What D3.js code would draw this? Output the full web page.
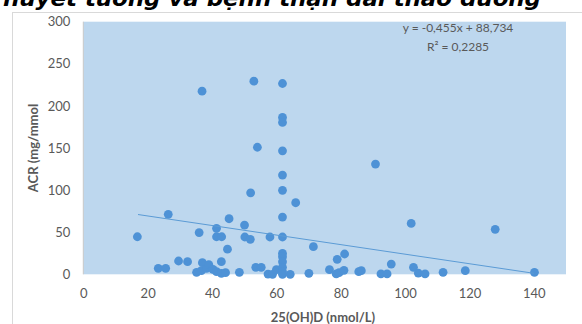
<!DOCTYPE html>
<html>
<head>
<meta charset="utf-8">
<script src="https://cdn.jsdelivr.net/npm/d3@7"></script>
<style>
  body { margin: 0; background: #fff; }
  svg { display: block; }
  text { font-family: Lato, "Open Sans", sans-serif; }
</style>
</head>
<body>
<svg id="chart" width="582" height="324"></svg>
<script>
// values
var vitD = [16.8, 23.3, 25.6, 26.4, 29.6, 32.4, 35.2, 36.0, 36.7, 37.0, 36.9, 38.3, 39.0, 40.3, 41.4, 41.4, 41.4, 43.0, 42.9, 42.9,
  44.2, 44.8, 45.3, 48.5, 50.1, 50.2, 51.9, 52.0, 53.0, 53.6, 54.1, 55.3, 57.4, 58.0, 58.8, 60.0, 61.9, 61.9, 61.9, 61.9,
  61.9, 61.9, 61.9, 61.9, 61.9, 61.9, 61.9, 61.9, 61.9, 61.9, 64.3, 66.0, 70.1, 71.5, 76.5, 78.6, 78.9, 79.5, 81.0, 81.2,
  85.6, 86.4, 90.8, 92.5, 94.4, 95.7, 101.9, 102.6, 104.1, 106.2, 111.8, 118.7, 128.0, 140.2];
var acr = [44.6, 7.1, 7.1, 71.2, 15.8, 15, 2.4, 49.6, 4.3, 13.8, 217.5, 7.1, 11.5, 5.9, 3.1, 54.6, 44.6, 44.6, 15, 1.2,
  1.9, 29.8, 66, 2.3, 58.5, 44.3, 41.5, 96.8, 229.4, 8.3, 150.9, 8.3, 0.3, 44.3, 0, 5.5, 226.6, 186.3, 180.4, 146.7,
  117.8, 99.7, 68, 44.3, 24.9, 20.9, 15, 8.3, 3.1, 0, 0, 85, 1.2, 32.8, 5.5, 0.4, 17.8, 1.9, 4.7, 24.1,
  3.1, 4.3, 130.9, 0.4, 0.4, 12.2, 60.4, 8.3, 1.5, 0.4, 2.4, 4.3, 53.4, 2.4];
var trendX = [17, 140];
var trendY = [71, 1.2];
var xTicks = [0, 20, 40, 60, 80, 100, 120, 140];
var yTicks = [0, 50, 100, 150, 200, 250, 300];
var titleText = "huyết tương và bệnh thận đái tháo đường";
var eqLines = ["y = -0,455x + 88,734", "R² = 0,2285"];

var svg = d3.select("#chart");
var plotL = 83.3, plotR = 566, plotT = 21.7, plotB = 274.3;

var x = d3.scaleLinear().domain([0, 150]).range([plotL, plotR]);
var y = d3.scaleLinear().domain([0, 300]).range([plotB, plotT]);

// chart frame (only left and top edges show in the crop)
svg.append("rect")
  .attr("x", 12.5).attr("y", 12.5)
  .attr("width", 600).attr("height", 340)
  .attr("fill", "#fff").attr("stroke", "#d9d9d9");

// title, cut at the top
svg.append("text")
  .attr("x", 3).attr("y", 6)
  .attr("textLength", 538).attr("lengthAdjust", "spacingAndGlyphs")
  .style("font-family", "'DejaVu Sans', sans-serif")
  .style("font-weight", "bold").style("font-style", "italic")
  .style("font-size", "22px").attr("fill", "#000")
  .text(titleText);

// plot area
svg.append("rect")
  .attr("x", plotL).attr("y", plotT)
  .attr("width", plotR - plotL).attr("height", plotB - plotT)
  .attr("fill", "#bdd7ee");
svg.append("line")
  .attr("x1", plotL).attr("x2", plotL).attr("y1", plotT).attr("y2", plotB)
  .attr("stroke", "#c8c8c8");

// axes
var yAxis = d3.axisLeft(y).tickValues(yTicks).tickSize(0).tickPadding(13);
svg.append("g").attr("transform", "translate(" + plotL + ",0)").call(yAxis)
  .call(g => g.select(".domain").remove())
  .selectAll("text").style("font-size", "13px").attr("fill", "#595959");

var xAxis = d3.axisBottom(x).tickValues(xTicks).tickSize(0).tickPadding(14);
svg.append("g").attr("transform", "translate(0," + plotB + ")").call(xAxis)
  .call(g => g.select(".domain").remove())
  .selectAll("text").style("font-size", "13px").attr("fill", "#595959");

// axis titles
svg.append("text")
  .attr("transform", "translate(38,148) rotate(-90)")
  .attr("text-anchor", "middle")
  .style("font-size", "13px").style("font-weight", "bold").attr("fill", "#595959")
  .text("ACR (mg/mmol");
svg.append("text")
  .attr("x", 323).attr("y", 322)
  .attr("text-anchor", "middle")
  .style("font-size", "13px").style("font-weight", "bold").attr("fill", "#595959")
  .text("25(OH)D (nmol/L)");

// points
var pts = d3.zip(vitD, acr);
svg.append("g").selectAll("circle")
  .data(pts).enter().append("circle")
  .attr("cx", d => x(d[0]))
  .attr("cy", d => y(d[1]))
  .attr("r", 4.4)
  .attr("fill", "#4e92d6");

// trend line
svg.append("line")
  .attr("x1", x(trendX[0])).attr("y1", y(trendY[0]))
  .attr("x2", x(trendX[1])).attr("y2", y(trendY[1]))
  .attr("stroke", "#5b9bd5").attr("stroke-width", 1);

// equation label
svg.append("g").selectAll("text")
  .data(eqLines).enter().append("text")
  .attr("x", 458).attr("y", (d, i) => 32 + i * 19)
  .attr("text-anchor", "middle")
  .style("font-size", "12px").attr("fill", "#595959")
  .text(d => d);
</script>
</body>
</html>
